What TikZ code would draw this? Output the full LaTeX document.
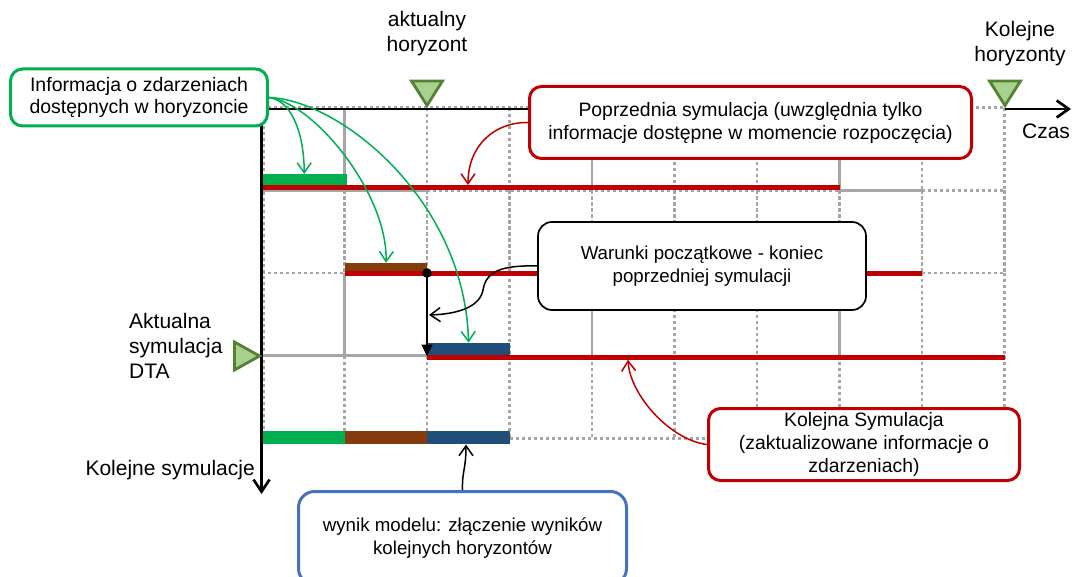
\documentclass[tikz,border=0pt]{standalone}
\usepackage{fontspec}
\setmainfont{Liberation Sans}
\usetikzlibrary{arrows.meta}

\definecolor{gridgrey}{HTML}{A6A6A6}
\definecolor{simred}{HTML}{C00000}
\definecolor{infogreen}{HTML}{00B050}
\definecolor{barbrown}{HTML}{843C0C}
\definecolor{barblue}{HTML}{1F4E79}
\definecolor{resultblue}{HTML}{4472C4}
\definecolor{markfill}{HTML}{A9D18E}
\definecolor{markdraw}{HTML}{548235}

\newcommand\labelsize{\fontsize{21}{25}\selectfont}
\newcommand\boxsize{\fontsize{19.4}{23}\selectfont}
\newcommand\boxsmall{\fontsize{18.7}{23.5}\selectfont}

\tikzset{
  gridsolid/.style={draw=gridgrey, line width=2.8pt},
  griddot/.style={draw=gridgrey, line width=2.8pt, dash pattern=on 3.2pt off 2.8pt},
  simline/.style={draw=simred, line width=5pt},
  axisline/.style={draw=black, line width=2.7pt},
  bar/.style={rectangle, inner sep=0pt, outer sep=0pt, draw=none},
  marker/.style={fill=markfill, draw=markdraw, line width=2.8pt},
  callout/.style={rectangle, rounded corners=12pt, fill=white, line width=3pt,
    align=center, inner sep=0pt, font=\boxsize},
  plainlabel/.style={inner sep=0pt, font=\labelsize},
  thinarrow/.style={line width=1.5pt, -{Straight Barb[length=10pt,width=14pt]}},
}

\begin{document}
\begin{tikzpicture}[x=1pt,y=-1pt]
\useasboundingbox (0,0) rectangle (1073,577);

% ---- grid: vertical segments per row band ----
\foreach \x in {344.5,592,839.5} \draw[gridsolid] (\x,108) -- (\x,190.5);
\foreach \x in {427,509.5,674.5,757,922,1004.5} \draw[griddot] (\x,108) -- (\x,190.5);
\foreach \x in {344.5,427,509.5,592,674.5,757,839.5,922,1004.5} \draw[griddot] (\x,190.5) -- (\x,273);
\foreach \x in {344.5,592,839.5} \draw[gridsolid] (\x,273) -- (\x,356);
\foreach \x in {509.5,674.5,757,922,1004.5} \draw[griddot] (\x,273) -- (\x,356);
\foreach \x in {344.5,427,509.5,592,674.5,757,839.5,922,1004.5} \draw[griddot] (\x,356) -- (\x,438.5);
\draw[griddot] (264,108) -- (264,438.5);

% ---- grid: horizontal segments ----
\draw[griddot] (262,107.3) -- (1004.5,107.3);
\draw[gridsolid] (262,190.5) -- (427,190.5);
\draw[griddot] (427,190.5) -- (839.5,190.5);
\draw[gridsolid] (839.5,190.5) -- (922,190.5);
\draw[griddot] (922,190.5) -- (1004.5,190.5);
\draw[griddot] (262,273) -- (344.5,273);
\draw[griddot] (922,273) -- (1004.5,273);
\draw[gridsolid] (262,355.5) -- (427,355.5);
\draw[griddot] (509.5,438.5) -- (1004.5,438.5);

% ---- simulation runs ----
\draw[simline] (262,187.3) -- (839.5,187.3);
\draw[simline, line width=5.3pt] (344.5,273.3) -- (922,273.3);
\draw[simline] (427,357) -- (1004.5,357);

% ---- information bars per horizon ----
\node[bar, fill=infogreen, minimum width=84.5pt, minimum height=11pt] (gbar) at (304.25,179.5) {};
\node[bar, fill=barbrown, minimum width=82.5pt, minimum height=8pt] (bbar) at (386,266.7) {};
\node[bar, fill=barblue, minimum width=82.5pt, minimum height=12.3pt] (lbar) at (468.5,348.8) {};
\node[bar, fill=infogreen, minimum width=82.5pt, minimum height=13pt] (rgreen) at (303.25,437.5) {};
\node[bar, fill=barbrown, minimum width=82.5pt, minimum height=13pt] (rbrown) at (385.75,437.5) {};
\node[bar, fill=barblue, minimum width=82.5pt, minimum height=13pt] (rblue) at (468.25,437.5) {};

% ---- axes ----
\draw[axisline] (262,109) -- (960,109);
\draw[axisline, -{Straight Barb[length=12pt,width=17pt]}] (1004.5,109) -- (1071,109);
\draw[axisline, -{Straight Barb[length=12pt,width=16pt]}] (261.5,108) -- (261.5,494);

% ---- horizon markers ----
\filldraw[marker] (411.5,81) -- (442.5,81) -- (427,105.5) -- cycle;
\filldraw[marker] (989.5,81) -- (1020.5,81) -- (1005,105.5) -- cycle;
\filldraw[marker] (234.5,342) -- (234.5,370) -- (259.5,356) -- cycle;

% ---- hand-over of the end state ----
\fill (427,273) circle (4.8pt);
\coordinate (handstart) at (427,273);
\coordinate (handend) at (427,356.5);
\draw[line width=2.7pt, -{Triangle[length=12pt,width=10.5pt]}] (handstart) -- (handend);

% ---- labels ----
\node[plainlabel, align=center] (curh) at (427,34) {aktualny\\horyzont};
\node[plainlabel, align=center] (nexth) at (1020,44) {Kolejne\\horyzonty};
\node[plainlabel] (czas) at (1046,131) {Czas};
\node[plainlabel, align=left, anchor=west] (dta) at (129,346) {Aktualna\\symulacja\\DTA};
\node[plainlabel, anchor=east] (kolsym) at (255,470) {Kolejne symulacje};

% ---- callouts ----
\node[callout, draw=infogreen, minimum width=257pt, minimum height=57pt,
      font=\fontsize{19.5}{22.5}\selectfont] (info) at (139,97.5)
  {Informacja o zdarzeniach\\dostępnych w horyzoncie};
\node[callout, draw=simred, minimum width=442pt, minimum height=72pt] (prev) at (750.5,122.5)
  {Poprzednia symulacja (uwzględnia tylko\\informacje dostępne w momencie rozpoczęcia)};
\node[callout, draw=black, line width=1.7pt, rounded corners=14pt, minimum width=328pt,
      minimum height=88pt, font=\boxsmall] (cond) at (702,266)
  {Warunki początkowe - koniec\\poprzedniej symulacji};
\node[callout, draw=simred, minimum width=311pt, minimum height=72pt] (next) at (864,444.5)
  {Kolejna Symulacja\\(zaktualizowane informacje o\\zdarzeniach)};
\node[callout, draw=resultblue, rounded corners=16pt, minimum width=328pt, minimum height=93pt,
      font=\boxsmall] (result) at (462.5,538)
  {wynik modelu: złączenie wyników\\kolejnych horyzontów};

% ---- connector end points ----
\coordinate (prevtip) at (468,185);
\coordinate (nexttip) at (628,359.8);
\coordinate (condtip) at (429,315);
\coordinate (restip) at (466,444.5);

% ---- connectors ----
\draw[thinarrow, infogreen] (info.east) .. controls (290,100) and (304,130) .. (gbar.north);
\draw[thinarrow, infogreen] (info.east) .. controls (315,103) and (388,195) .. (bbar.north);
\draw[thinarrow, infogreen] (info.east) .. controls (340,100) and (465,200) .. (lbar.north);
\draw[thinarrow, simred] (prev.west) .. controls (495,122) and (468,145) .. (prevtip);
\draw[thinarrow, simred] (next.west) .. controls (670,440) and (630,395) .. (nexttip);
\draw[thinarrow, black] (cond.west) .. controls (500,265) and (486,272) .. (483,290)
  .. controls (480,306) and (460,314) .. (condtip);
\draw[thinarrow, black] (result.north) .. controls (462,470) and (466,470) .. (restip);
\end{tikzpicture}
\end{document}
